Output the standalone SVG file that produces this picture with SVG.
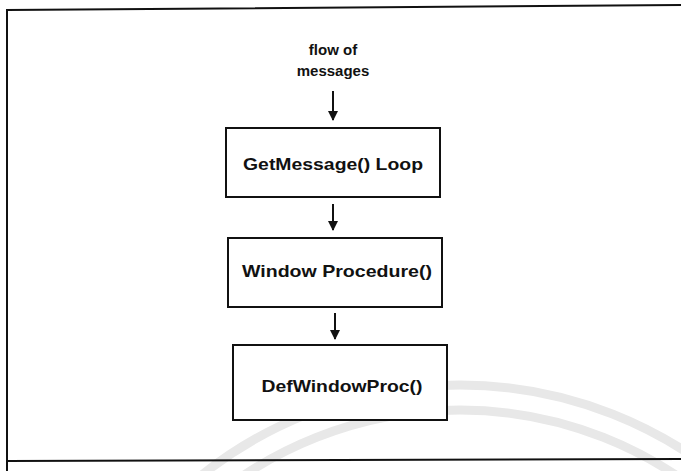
<svg xmlns="http://www.w3.org/2000/svg" width="681" height="471" viewBox="0 0 681 471">
  <style>
    .box { fill: #ffffff; stroke: #111111; stroke-width: 2; }
    .label { font-family: "Liberation Sans", Arial, sans-serif; font-weight: bold; font-size: 17px; fill: #111111; text-anchor: middle; }
    .caption { font-family: "Liberation Sans", Arial, sans-serif; font-weight: bold; font-size: 15px; fill: #111111; text-anchor: middle; }
    .edge { stroke: #111111; stroke-width: 2; fill: none; }
    .frame { stroke: #111111; stroke-width: 2; fill: none; }
    .mark { stroke: #e8e8e8; stroke-width: 9; fill: none; }
  </style>
  <defs>
    <marker id="head" viewBox="0 0 10 10" refX="9" refY="5" markerWidth="5" markerHeight="5" orient="auto" markerUnits="strokeWidth">
      <path d="M0,0 L10,5 L0,10 Z" fill="#111111"/>
    </marker>
  </defs>

  <rect width="681" height="471" fill="#ffffff"/>

  <!-- faint seal in the lower part of the page -->
  <g id="seal">
    <circle class="mark" cx="460" cy="800" r="415"/>
    <circle class="mark" cx="460" cy="800" r="390"/>
  </g>

  <!-- outer frame -->
  <path class="frame" d="M7,471 L7,10 L681,5"/>
  <path class="frame" d="M7,461 L681,459"/>

  <g id="caption">
    <text class="caption" x="333" y="55">flow of</text>
    <text class="caption" x="333" y="76">messages</text>
  </g>

  <g id="connectors">
    <line class="edge" x1="333" y1="91" x2="333" y2="120" marker-end="url(#head)"/>
    <line class="edge" x1="333" y1="204" x2="333" y2="230" marker-end="url(#head)"/>
    <line class="edge" x1="335" y1="313" x2="335" y2="339" marker-end="url(#head)"/>
  </g>

  <g id="getmessage">
    <rect class="box" x="226" y="128" width="214" height="69"/>
    <text class="label" x="333" y="170" textLength="180" lengthAdjust="spacingAndGlyphs">GetMessage() Loop</text>
  </g>

  <g id="windowproc">
    <rect class="box" x="228" y="238" width="214" height="69"/>
    <text class="label" x="337" y="277" textLength="190" lengthAdjust="spacingAndGlyphs">Window Procedure()</text>
  </g>

  <g id="defwindowproc">
    <rect class="box" x="233" y="345" width="214" height="75"/>
    <text class="label" x="342" y="392" textLength="161" lengthAdjust="spacingAndGlyphs">DefWindowProc()</text>
  </g>
</svg>
